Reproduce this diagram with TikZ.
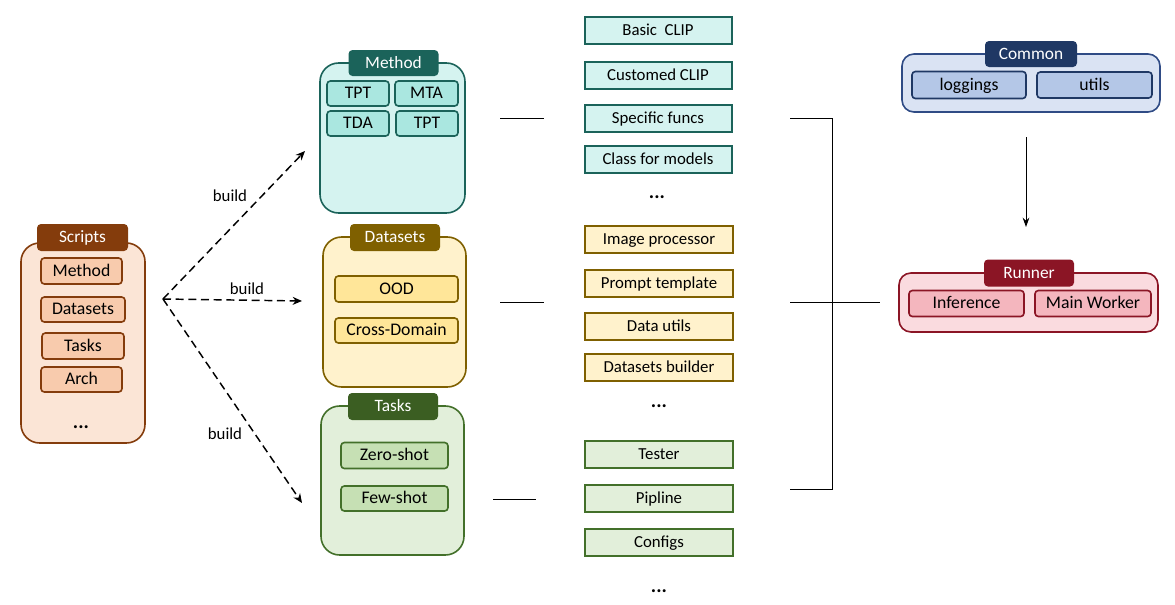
\documentclass[tikz,border=0pt]{standalone}
\usepackage{fontspec}
\setmainfont{Carlito}
\usetikzlibrary{arrows.meta}
\definecolor{scD}{HTML}{843C0C}\definecolor{scF}{HTML}{FBE5D6}\definecolor{scI}{HTML}{F8CBAD}
\definecolor{meD}{HTML}{1B635A}\definecolor{meF}{HTML}{D5F3F0}\definecolor{meI}{HTML}{AAE7E0}
\definecolor{daD}{HTML}{7F6000}\definecolor{daF}{HTML}{FFF2CC}\definecolor{daI}{HTML}{FFE699}
\definecolor{taD}{HTML}{3B5E22}\definecolor{taB}{HTML}{43702A}\definecolor{taF}{HTML}{E2EFDA}\definecolor{taI}{HTML}{C6E0B4}
\definecolor{coD}{HTML}{1F3864}\definecolor{coB}{HTML}{2F4B85}\definecolor{coF}{HTML}{DAE3F3}\definecolor{coI}{HTML}{B4C7E7}
\definecolor{ruD}{HTML}{8B1525}\definecolor{ruF}{HTML}{FADBDF}\definecolor{ruI}{HTML}{F4B6BE}
\tikzset{
  wh/.style 2 args={minimum width=#1*0.75pt, minimum height=#2*0.75pt, inner sep=0pt},
  tx/.style={text height=10.2pt, text depth=2.4pt},
  cont/.style={draw=#1, line width=1.2pt, rounded corners=14pt},
  head/.style={fill=#1, text=white, rounded corners=3pt, tx, font=\fontsize{13}{15}\selectfont},
  inbox/.style 2 args={draw=#1, fill=#2, line width=1.2pt, rounded corners=2.5pt, tx, font=\fontsize{13.3}{15}\selectfont},
  lbox/.style 2 args={draw=#1, fill=#2, line width=1.5pt, tx, font=\fontsize{12.6}{15}\selectfont},
  conn/.style={line width=0.75pt},
  build/.style={dash pattern=on 6pt off 3.5pt, line width=1.1pt, -{Stealth[length=7pt,width=6pt]}},
  lbl/.style={font=\fontsize{12.6}{15}\selectfont, inner sep=0pt},
  dots/.style={font=\fontsize{15}{15}\selectfont\bfseries, inner sep=0pt}
}
\begin{document}
\begin{tikzpicture}[x=0.75pt,y=-0.75pt]
\useasboundingbox (0,0) rectangle (1175,604);
% ---------------- Scripts
\node[cont=scD, fill=scF, wh={124}{200}] (scripts) at (83,343) {};
\node[head=scD, wh={91}{27}] (scriptsH) at (82.5,237.5) {Scripts};
\node[inbox={scD}{scI}, wh={81}{26}] (sMethod) at (81.5,271) {Method};
\node[inbox={scD}{scI}, wh={84}{25}] (sData) at (83,309.5) {Datasets};
\node[inbox={scD}{scI}, wh={82}{26}] (sTasks) at (83,346) {Tasks};
\node[inbox={scD}{scI}, wh={81}{25}] (sArch) at (81.5,379.5) {Arch};
\node[dots] (sDots) at (81,427) {...};
% ---------------- Method
\node[cont=meD, fill=meF, wh={145}{150}] (method) at (392.5,138) {};
\node[head=meD, wh={90}{26}] (methodH) at (393.5,63) {Method};
\node[inbox={meD}{meI}, wh={62}{25}] (mTPT) at (358,93.5) {TPT};
\node[inbox={meD}{meI}, wh={63}{25}] (mMTA) at (426.5,93.5) {MTA};
\node[inbox={meD}{meI}, wh={62}{25}] (mTDA) at (358,123.5) {TDA};
\node[inbox={meD}{meI}, wh={62}{25}] (mTPT2) at (427,123.5) {TPT};
% ---------------- Datasets
\node[cont=daD, fill=daF, wh={143}{150}] (datasets) at (394.5,312) {};
\node[head=daD, wh={90}{27}] (datasetsH) at (395,237.5) {Datasets};
\node[inbox={daD}{daI}, wh={123}{26}] (dOOD) at (396.5,289) {OOD};
\node[inbox={daD}{daI}, wh={123}{25}] (dCross) at (396.5,330.5) {Cross-Domain};
% ---------------- Tasks
\node[cont=taB, fill=taF, wh={143}{149}] (tasks) at (392.5,480.5) {};
\node[head=taD, wh={90}{27}] (tasksH) at (393,406.5) {Tasks};
\node[inbox={taB}{taI}, wh={107}{26}] (tZero) at (394.5,455.5) {Zero-shot};
\node[inbox={taB}{taI}, wh={107}{25}] (tFew) at (394.5,498.5) {Few-shot};
% ---------------- build arrows
\coordinate (src) at (163,299);
\coordinate (toM) at (305,151);
\coordinate (toD) at (302,301);
\coordinate (toT) at (302,503);
\draw[build] (src) -- (toM);
\draw[build] (src) -- (toD);
\draw[build] (src) -- (toT);
\node[lbl] (b1) at (230,196) {build};
\node[lbl] (b2) at (247,289) {build};
\node[lbl] (b3) at (225,434) {build};
% ---------------- lists
\node[lbox={meD}{meF}, wh={147}{27}] (l1) at (658,30.5) {Basic\ \ CLIP};
\node[lbox={meD}{meF}, wh={147}{27}] (l2) at (658,75.5) {Customed CLIP};
\node[lbox={meD}{meF}, wh={147}{27}] (l3) at (658,118.5) {Specific funcs};
\node[lbox={meD}{meF}, wh={147}{27}] (l4) at (658,159.5) {Class for models};
\node[dots] (ld1) at (657,197) {...};
\node[lbox={daD}{daF}, wh={148}{27}] (l5) at (659,239.5) {Image processor};
\node[lbox={daD}{daF}, wh={148}{27}] (l6) at (659,283.5) {Prompt template};
\node[lbox={daD}{daF}, wh={148}{27}] (l7) at (659,326.5) {Data utils};
\node[lbox={daD}{daF}, wh={148}{27}] (l8) at (659,367.5) {Datasets builder};
\node[dots] (ld2) at (659,406) {...};
\node[lbox={taB}{taF}, wh={148}{27}] (l9) at (659,454.5) {Tester};
\node[lbox={taB}{taF}, wh={148}{27}] (l10) at (659,498.5) {Pipline};
\node[lbox={taB}{taF}, wh={148}{27}] (l11) at (659,542.5) {Configs};
\node[dots] (ld3) at (659,591) {...};
% ---------------- short lines
\coordinate (a1) at (500,118); \coordinate (a2) at (544,118);
\coordinate (a3) at (500,302); \coordinate (a4) at (544,302);
\coordinate (a5) at (493,499); \coordinate (a6) at (536,499);
\draw[conn] (a1) -- (a2);
\draw[conn] (a3) -- (a4);
\draw[conn] (a5) -- (a6);
% ---------------- bracket
\coordinate (r1) at (790,118); \coordinate (r2) at (832,118);
\coordinate (r3) at (832,489); \coordinate (r4) at (790,489);
\coordinate (r5) at (790,302); \coordinate (r6) at (880,302);
\draw[conn] (r1) -- (r2) -- (r3) -- (r4);
\draw[conn] (r5) -- (r6);
% ---------------- Common
\node[cont=coB, fill=coF, wh={258}{58}, rounded corners=9pt] (common) at (1031,83) {};
\node[head=coD, wh={92}{26}] (commonH) at (1031,54) {Common};
\node[inbox={coD}{coI}, wh={114}{27}] (cLog) at (969,85) {loggings};
\node[inbox={coD}{coI}, wh={115}{26}] (cUtil) at (1094.5,85) {utils};
% ---------------- Runner
\node[cont=ruD, fill=ruF, wh={259}{59}, rounded corners=9pt] (runner) at (1028.5,302.5) {};
\node[head=ruD, wh={90}{27}] (runnerH) at (1029,273) {Runner};
\node[inbox={ruD}{ruI}, wh={115}{26}] (rInf) at (966.5,303.5) {Inference};
\node[inbox={ruD}{ruI}, wh={116}{26}] (rMain) at (1093,303.5) {Main Worker};
% common -> runner
\coordinate (cr1) at (1026,137);
\coordinate (cr2) at (1026,227);
\draw[conn, -{Stealth[length=7pt,width=5pt]}] (cr1) -- (cr2);
\end{tikzpicture}
\end{document}
